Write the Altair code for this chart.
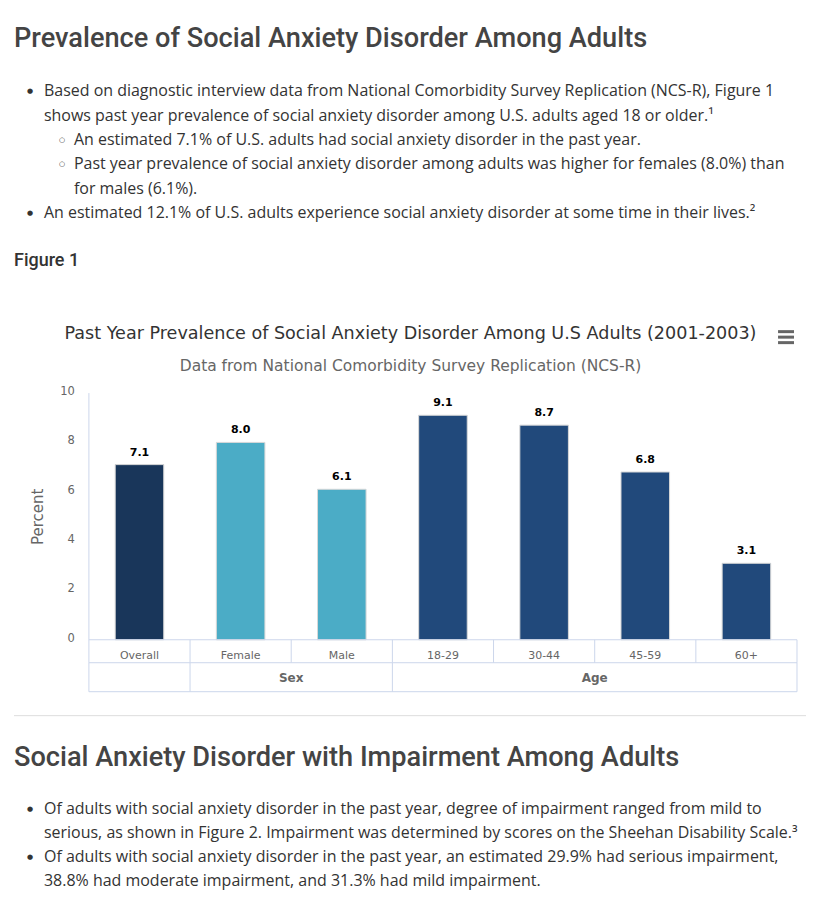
import altair as alt
import pandas as pd

# ---------------- data ----------------
categories = ["Overall", "Female", "Male", "18-29", "30-44", "45-59", "60+"]
groups = ["", "Sex", "Sex", "Age", "Age", "Age", "Age"]
series = ["Overall", "Sex", "Sex", "Age", "Age", "Age", "Age"]
values = [7.1, 8.0, 6.1, 9.1, 8.7, 6.8, 3.1]
y_ticks = [0, 2, 4, 6, 8, 10]
series_names = ["Overall", "Sex", "Age"]
series_colors = ["#19365a", "#4bacc6", "#21497b"]

chart_title = "Past Year Prevalence of Social Anxiety Disorder Among U.S Adults (2001-2003)"
chart_subtitle = "Data from National Comorbidity Survey Replication (NCS-R)"
y_title = "Percent"

heading_1 = "Prevalence of Social Anxiety Disorder Among Adults"
bullets_1_text = [
    "Based on diagnostic interview data from National Comorbidity Survey Replication (NCS-R), Figure 1",
    "shows past year prevalence of social anxiety disorder among U.S. adults aged 18 or older.\u00b9",
    "An estimated 7.1% of U.S. adults had social anxiety disorder in the past year.",
    "Past year prevalence of social anxiety disorder among adults was higher for females (8.0%) than",
    "for males (6.1%).",
    "An estimated 12.1% of U.S. adults experience social anxiety disorder at some time in their lives.\u00b2",
]
bullets_1_level = [0, 0, 1, 1, 1, 0]
bullets_1_start = [True, False, True, True, False, True]
figure_label = "Figure 1"

heading_2 = "Social Anxiety Disorder with Impairment Among Adults"
bullets_2_text = [
    "Of adults with social anxiety disorder in the past year, degree of impairment ranged from mild to",
    "serious, as shown in Figure 2. Impairment was determined by scores on the Sheehan Disability Scale.\u00b3",
    "Of adults with social anxiety disorder in the past year, an estimated 29.9% had serious impairment,",
    "38.8% had moderate impairment, and 31.3% had mild impairment.",
]
bullets_2_level = [0, 0, 0, 0]
bullets_2_start = [True, False, True, False]

# ---------------- layout / style ----------------
W = 799
TOP_H, MID_H, BOT_H = 292, 392, 192
BODY_FONT = "Open Sans"
HEAD_FONT = "Roboto"
CHART_FONT = "DejaVu Sans"
BODY_COLOR = "#333333"
HEAD_COLOR = "#444444"
LINE_STEP = 24.3
TEXT_X = {0: 36, 1: 66}
BULLET_X = {0: 22, 1: 54}
BULLET_GLYPH = {0: "\u25cf", 1: "\u25cb"}
BULLET_SIZE = 7
GRID_COLOR = "#ccd6eb"


def canvas_enc(H):
    return dict(
        x=alt.X("x:Q", scale=alt.Scale(domain=[0, W], nice=False, zero=False), axis=None),
        y=alt.Y("y:Q", scale=alt.Scale(domain=[0, H], reverse=True, nice=False, zero=False), axis=None),
    )


def bullet_layers(texts, levels, starts, y0, H):
    rows = []
    for k, (t, lv, st) in enumerate(zip(texts, levels, starts)):
        rows.append({"text": t, "x": TEXT_X[lv], "y": y0 + k * LINE_STEP,
                     "g": BULLET_GLYPH[lv] if st else "", "gx": BULLET_X[lv]})
    df = pd.DataFrame(rows)
    enc = canvas_enc(H)
    body = alt.Chart(df).mark_text(align="left", baseline="middle", font=BODY_FONT,
                                   fontSize=16, color=BODY_COLOR).encode(text="text:N", **enc)
    gdf = df[df["g"] != ""].copy()
    gdf["x"] = gdf["gx"]
    glyph = alt.Chart(gdf).mark_text(align="center", baseline="middle", font="DejaVu Sans",
                                     fontSize=BULLET_SIZE, color=BODY_COLOR).encode(text="g:N", **enc)
    return [glyph, body]


def single_text(text, x, y, H, **kw):
    df = pd.DataFrame([{"text": text, "x": x, "y": y}])
    return alt.Chart(df).mark_text(align="left", baseline="middle", **kw).encode(
        text="text:N", **canvas_enc(H))


# ---------------- top text block ----------------
top = alt.layer(
    single_text(heading_1, 6, 30, TOP_H, font=HEAD_FONT, fontSize=27.2, fontWeight=500, color=HEAD_COLOR),
    *bullet_layers(bullets_1_text, bullets_1_level, bullets_1_start, 83, TOP_H),
    single_text(figure_label, 6, 253, TOP_H, font=HEAD_FONT, fontSize=18, fontWeight=500, color=BODY_COLOR),
).properties(width=W, height=TOP_H)

# ---------------- chart block ----------------
bars_df = pd.DataFrame({"category": categories, "group": groups, "series": series,
                        "value": values, "i": list(range(len(categories)))})
n = len(categories)
xs = alt.Scale(domain=[0, n], range=[81, 790], nice=False, zero=False)
ys = alt.Scale(domain=[0, 10], range=[340, 93], nice=False, zero=False)
HALF = 0.24

bars = alt.Chart(bars_df).transform_calculate(
    x0=f"datum.i + 0.5 - {HALF}", x1=f"datum.i + 0.5 + {HALF}"
).mark_bar(stroke="#d8d8d8", strokeWidth=1).encode(
    x=alt.X("x0:Q", scale=xs, axis=None),
    x2="x1:Q",
    y=alt.Y("value:Q", scale=ys, axis=None),
    y2=alt.datum(0),
    color=alt.Color("series:N", scale=alt.Scale(domain=series_names, range=series_colors), legend=None),
)

labels = alt.Chart(bars_df).transform_calculate(xc="datum.i + 0.5").mark_text(
    align="center", baseline="middle", dy=-12, font=CHART_FONT, fontSize=11,
    fontWeight="bold", color="#000000"
).encode(
    x=alt.X("xc:Q", scale=xs, axis=None),
    y=alt.Y("value:Q", scale=ys, axis=None),
    text=alt.Text("value:Q", format=".1f"),
)

tick_df = pd.DataFrame({"t": y_ticks})
tick_labels = alt.Chart(tick_df).mark_text(
    align="right", baseline="middle", dy=-1, font=CHART_FONT, fontSize=11.5, color="#666666"
).encode(x=alt.value(67), y=alt.Y("t:Q", scale=ys, axis=None), text="t:Q")

y_title_layer = alt.Chart(pd.DataFrame([{"t": y_title}])).mark_text(
    angle=270, align="center", baseline="middle", font=CHART_FONT, fontSize=15, color="#666666"
).encode(x=alt.value(30), y=alt.value(217), text="t:N")

title_layer = alt.Chart(pd.DataFrame([{"t": chart_title}])).mark_text(
    align="center", baseline="middle", font=CHART_FONT, fontSize=17.6, color="#333333"
).encode(x=alt.value(403), y=alt.value(33.5), text="t:N")

subtitle_layer = alt.Chart(pd.DataFrame([{"t": chart_subtitle}])).mark_text(
    align="center", baseline="middle", font=CHART_FONT, fontSize=15.5, color="#666666"
).encode(x=alt.value(403), y=alt.value(65.5), text="t:N")

# context-menu icon (three thick bars)
menu_layers = [
    alt.Chart(pd.DataFrame([{"k": 1}])).mark_rule(color="#666666", strokeWidth=3).encode(
        x=alt.value(771), x2=alt.value(787), y=alt.value(yy))
    for yy in (31.5, 37, 42.5)
]

# grouped category table below the plot
bound_df = pd.DataFrame({"b": list(range(n + 1))})
group_bounds = [0] + [k for k in range(1, n) if groups[k] != groups[k - 1]] + [n]
gb_df = pd.DataFrame({"b": group_bounds})
axis_line = alt.Chart(pd.DataFrame({"b": [0]})).mark_rule(color=GRID_COLOR).encode(
    x=alt.X("b:Q", scale=xs, axis=None), y=alt.value(93), y2=alt.value(340))
row1_lines = alt.Chart(bound_df).mark_rule(color=GRID_COLOR).encode(
    x=alt.X("b:Q", scale=xs, axis=None), y=alt.value(340), y2=alt.value(363))
row2_lines = alt.Chart(gb_df).mark_rule(color=GRID_COLOR).encode(
    x=alt.X("b:Q", scale=xs, axis=None), y=alt.value(363), y2=alt.value(392))
span_df = pd.DataFrame({"a": [0], "z": [n]})
hlines = [
    alt.Chart(span_df).mark_rule(color=GRID_COLOR).encode(
        x=alt.X("a:Q", scale=xs, axis=None), x2="z:Q", y=alt.value(yy))
    for yy in (340, 363, 392)
]
cat_labels = alt.Chart(bars_df).transform_calculate(xc="datum.i + 0.5").mark_text(
    align="center", baseline="middle", font=CHART_FONT, fontSize=11, color="#666666"
).encode(x=alt.X("xc:Q", scale=xs, axis=None), y=alt.value(356), text="category:N")

grp_rows = []
for a, z in zip(group_bounds[:-1], group_bounds[1:]):
    grp_rows.append({"label": groups[a], "c": (a + z) / 2})
grp_labels = alt.Chart(pd.DataFrame(grp_rows)).mark_text(
    align="center", baseline="middle", font=CHART_FONT, fontSize=12, fontWeight="bold", color="#666666"
).encode(x=alt.X("c:Q", scale=xs, axis=None), y=alt.value(378.5), text="label:N")

mid = alt.layer(
    bars, labels, tick_labels, y_title_layer, title_layer, subtitle_layer, *menu_layers,
    axis_line, row1_lines, row2_lines, *hlines, cat_labels, grp_labels,
).properties(width=W, height=MID_H)

# ---------------- bottom text block ----------------
sep = alt.Chart(pd.DataFrame([{"k": 1}])).mark_rule(color="#dddddd").encode(
    x=alt.value(6), x2=alt.value(799), y=alt.value(23))
bottom = alt.layer(
    sep,
    single_text(heading_2, 6, 65, BOT_H, font=HEAD_FONT, fontSize=27.2, fontWeight=500, color=HEAD_COLOR),
    *bullet_layers(bullets_2_text, bullets_2_level, bullets_2_start, 116, BOT_H),
).properties(width=W, height=BOT_H)

chart = alt.vconcat(top, mid, bottom, spacing=0, padding=0).configure_view(stroke=None)
chart.save("out.html", embed_options={"renderer": "svg", "actions": False})
